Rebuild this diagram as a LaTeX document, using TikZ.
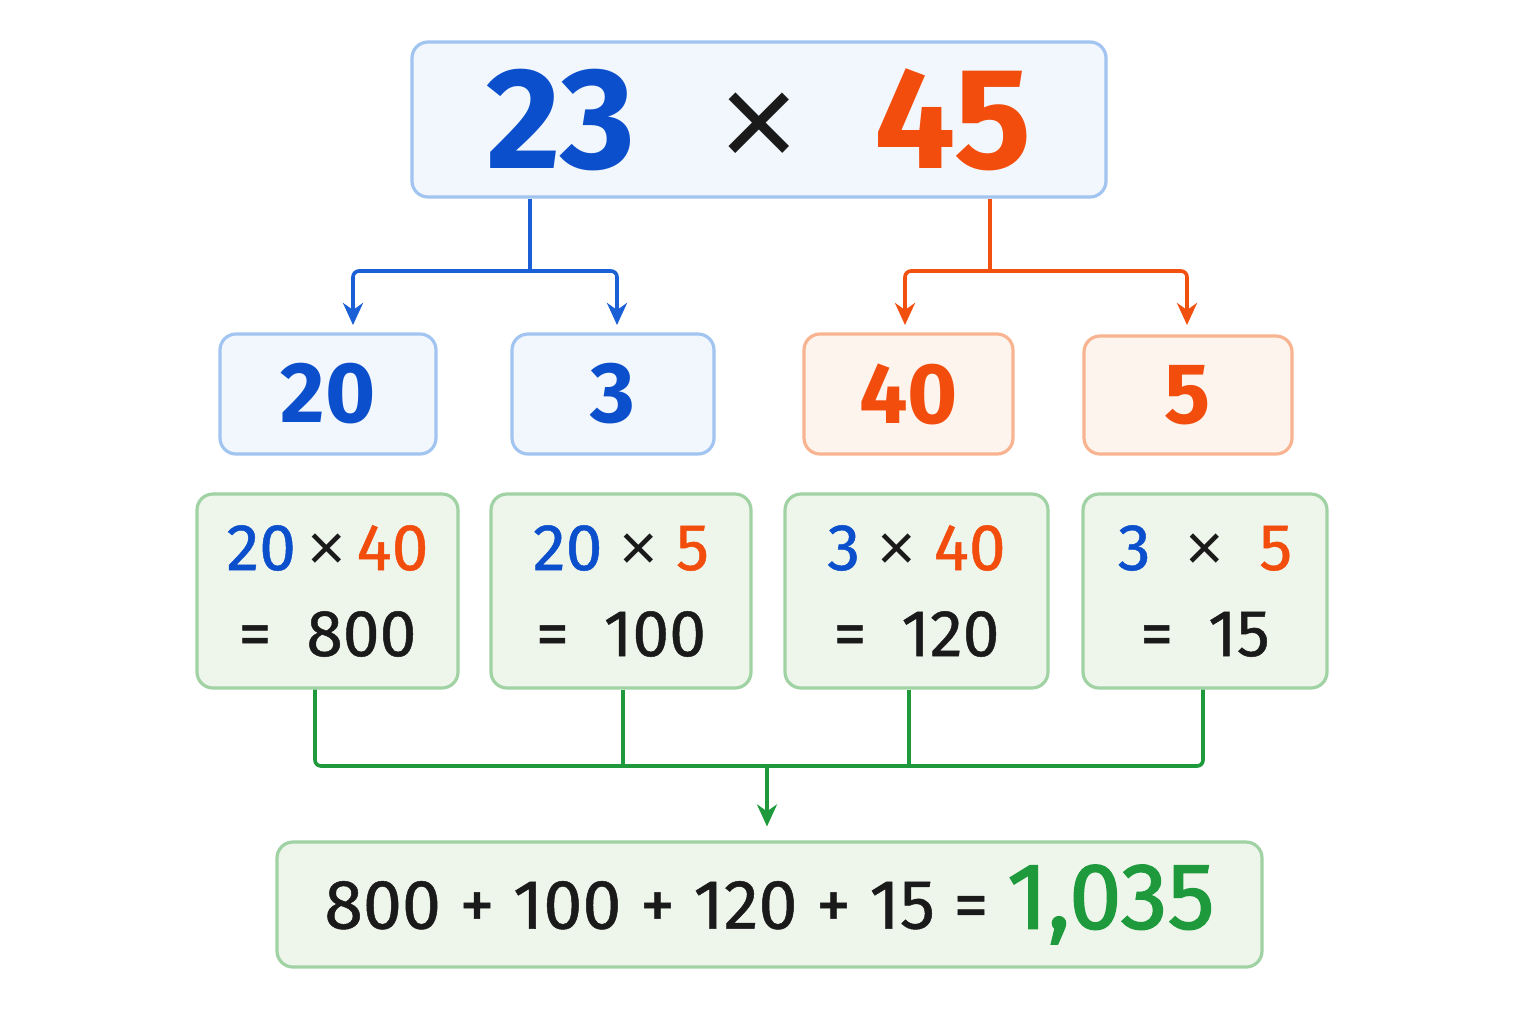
\documentclass[tikz,border=0pt]{standalone}
\usepackage{fontspec}
\setmainfont{Fira Sans}
\newfontfamily\medfont{Fira Sans}[FakeBold=0.7]
\newfontfamily\semifont{Fira Sans}[FakeBold=1.6]
\newfontfamily\timesfont{Liberation Sans}
\usetikzlibrary{arrows.meta}
\definecolor{cblue}{HTML}{0B4FCC}
\definecolor{corange}{HTML}{F24D0C}
\definecolor{cgreen}{HTML}{1E9A3C}
\definecolor{cblack}{HTML}{1A1A1A}
\definecolor{bfill}{HTML}{F2F7FD}
\definecolor{bdraw}{HTML}{A2C4F0}
\definecolor{ofill}{HTML}{FEF4EE}
\definecolor{odraw}{HTML}{F8B490}
\definecolor{gfill}{HTML}{EEF6EC}
\definecolor{gdraw}{HTML}{A0D2A4}
\definecolor{bline}{HTML}{1A5FD6}
\definecolor{oline}{HTML}{F2500F}
\definecolor{gline}{HTML}{1E9A3C}
\begin{document}
\begin{tikzpicture}[x=0.5pt,y=-0.5pt,
  box/.style={draw, line width=1.6pt, rounded corners=8pt, inner sep=0pt, align=center},
  bluebox/.style={box, draw=bdraw, fill=bfill},
  orangebox/.style={box, draw=odraw, fill=ofill},
  greenbox/.style={box, draw=gdraw, fill=gfill},
  conn/.style={line width=1.8pt, rounded corners=3pt},
  tip/.style={-{Stealth[length=11pt,width=10pt,inset=3.5pt]}},
  numtxt/.style={font=\fontsize{43}{43}\selectfont\bfseries},
  prodtxt/.style={font=\fontsize{33}{40}\selectfont\medfont, text=cblack}
]
\useasboundingbox (0,0) rectangle (1536,1024);
\fill[white] (0,0) rectangle (1536,1024);

% top box
\node[bluebox, minimum width=347pt, minimum height=77.5pt] (top) at (759,119.5)
  {\fontsize{72}{72}\selectfont\bfseries{\color{cblue}23}\hspace{42pt}{\color{cblack}\timesfont\mdseries\fontsize{68}{68}\selectfont ×}\hspace{38pt}{\color{corange}45}};

% level 2
\node[bluebox, minimum width=108pt, minimum height=60pt, numtxt, text=cblue] (n20) at (328,394) {20};
\node[bluebox, minimum width=101pt, minimum height=60pt, numtxt, text=cblue] (n3) at (613,394) {3};
\node[orangebox, minimum width=104.5pt, minimum height=60pt, numtxt, text=corange] (n40) at (908.5,394) {40};
\node[orangebox, minimum width=104pt, minimum height=59pt, numtxt, text=corange] (n5) at (1188,395) {5};

% level 3
\node[greenbox, minimum width=130.5pt, minimum height=97pt, prodtxt] (p1) at (327.5,591)
  {{\color{cblue}20}\,{\timesfont ×}\,{\color{corange}40}\\[3pt] =\ \ 800};
\node[greenbox, minimum width=130pt, minimum height=97pt, prodtxt] (p2) at (621,591)
  {{\color{cblue}20} {\timesfont ×}\ {\color{corange}5}\\[3pt] =\ \ 100};
\node[greenbox, minimum width=131.5pt, minimum height=97pt, prodtxt] (p3) at (916.5,591)
  {{\color{cblue}3}\ {\timesfont ×}\ {\color{corange}40}\\[3pt] =\ \ 120};
\node[greenbox, minimum width=122pt, minimum height=97pt, prodtxt] (p4) at (1205,591)
  {{\color{cblue}3}\ \ {\timesfont ×}\ \ {\color{corange}5}\\[3pt] =\ \ 15};

% result
\node[greenbox, minimum width=492.5pt, minimum height=62.5pt, text=cblack] (res) at (769.5,904.5)
  {\fontsize{35}{35}\selectfont\medfont 800 + 100 + 120 + 15 = {\fontsize{47}{47}\selectfont\semifont\color{cgreen}1,035}};

% blue connectors
\coordinate (bj) at (530,271);
\coordinate (a20) at (353,325);
\coordinate (a3) at (617,325);
\draw[conn, bline] (top.south -| bj) -- (bj);
\draw[conn, bline, tip] (bj) -| (a20);
\draw[conn, bline, tip] (bj) -| (a3);

% orange connectors
\coordinate (oj) at (990,271);
\coordinate (a40) at (905,325);
\coordinate (a5) at (1187,325);
\draw[conn, oline] (top.south -| oj) -- (oj);
\draw[conn, oline, tip] (oj) -| (a40);
\draw[conn, oline, tip] (oj) -| (a5);

% green connectors
\coordinate (g1) at (315,766);
\coordinate (g2) at (623,766);
\coordinate (g3) at (909,766);
\coordinate (g4) at (1203,766);
\coordinate (gj) at (767,766);
\draw[conn, gline] (p1.south -| g1) -- (g1) -- (g4) -- (p4.south -| g4);
\draw[conn, gline] (p2.south -| g2) -- (g2);
\draw[conn, gline] (p3.south -| g3) -- (g3);
\draw[conn, gline, tip, shorten >=7pt] (gj) -- (gj |- res.north);
\end{tikzpicture}
\end{document}
